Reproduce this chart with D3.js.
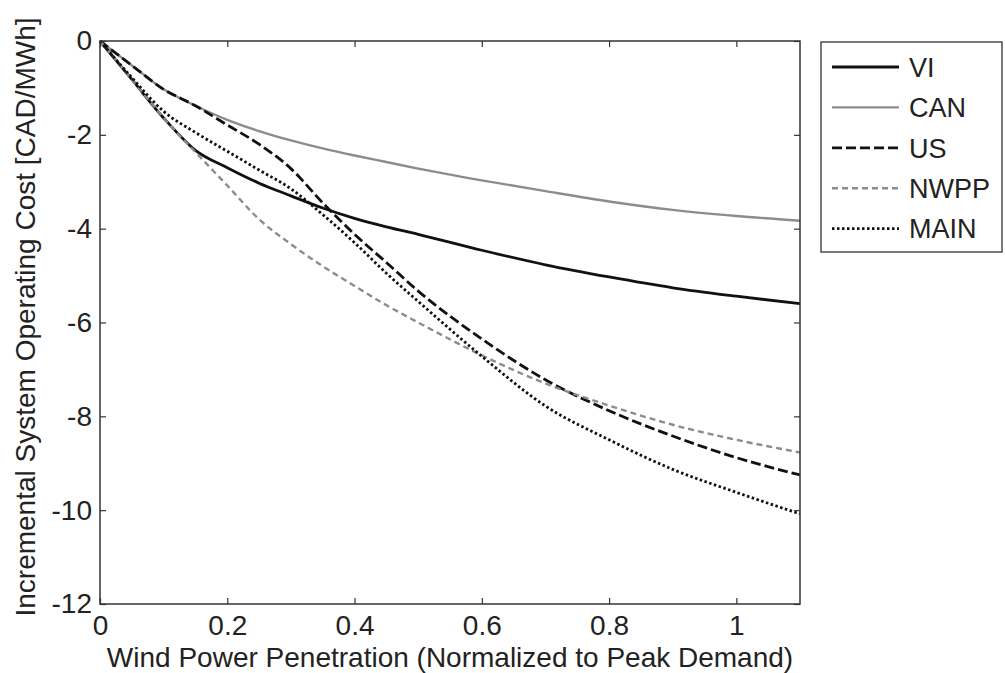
<!DOCTYPE html>
<html><head><meta charset="utf-8">
<script src="https://cdn.jsdelivr.net/npm/d3@7"></script>
<style>body{margin:0;background:#fff}svg{display:block}text{font-family:"Liberation Sans",Arial,sans-serif;fill:#222}</style>
</head><body><svg id="c" width="1005" height="673"></svg>
<script>
const xValues = [0,0.05,0.1,0.15,0.2,0.25,0.3,0.35,0.4,0.45,0.5,0.6,0.7,0.8,0.9,1.0,1.1];
const seriesNames = ["VI","CAN","US","NWPP","MAIN"];
const VI   = [0,-0.82,-1.64,-2.33,-2.7,-3.03,-3.3,-3.56,-3.78,-3.96,-4.12,-4.46,-4.77,-5.03,-5.26,-5.44,-5.6];
const CAN  = [0,-0.52,-1.03,-1.38,-1.68,-1.92,-2.12,-2.29,-2.44,-2.58,-2.72,-2.97,-3.2,-3.42,-3.6,-3.73,-3.83];
const US   = [0,-0.52,-1.03,-1.38,-1.79,-2.2,-2.72,-3.45,-4.12,-4.72,-5.33,-6.35,-7.22,-7.88,-8.42,-8.88,-9.25];
const NWPP = [0,-0.82,-1.64,-2.37,-3.08,-3.8,-4.33,-4.8,-5.22,-5.63,-6.0,-6.7,-7.3,-7.77,-8.18,-8.5,-8.77];
const MAIN = [0,-0.78,-1.5,-1.95,-2.35,-2.75,-3.15,-3.7,-4.3,-4.95,-5.55,-6.72,-7.78,-8.5,-9.13,-9.62,-10.08];
const xTicks = [0,0.2,0.4,0.6,0.8,1];
const yTicks = [0,-2,-4,-6,-8,-10,-12];
const xLabel = "Wind Power Penetration (Normalized to Peak Demand)";
const yLabel = "Incremental System Operating Cost [CAD/MWh]";

const styles = {
  VI:   {color:"#111", width:2.8, dash:null},
  CAN:  {color:"#8c8c8c", width:2.4, dash:null},
  US:   {color:"#111", width:2.8, dash:"10,4"},
  NWPP: {color:"#8c8c8c", width:2.4, dash:"6,4"},
  MAIN: {color:"#111", width:2.8, dash:"2.5,2.5"}
};
const data = {VI, CAN, US, NWPP, MAIN};

const svg = d3.select("#c");
const L=100, T=41, R=800, B=604;
const x = d3.scaleLinear().domain([0,1.1]).range([L,R]);
const y = d3.scaleLinear().domain([-12,0]).range([B,T]);
const FONT = "'Liberation Sans',Arial,sans-serif";
const axisColor="#333";

const line = d3.line().x(d=>x(d[0])).y(d=>y(d[1])).curve(d3.curveMonotoneX);
seriesNames.forEach(n=>{
  const s=styles[n];
  svg.append("path").datum(xValues.map((v,i)=>[v,data[n][i]]))
    .attr("d",line).attr("fill","none").attr("stroke",s.color)
    .attr("stroke-width",s.width).attr("stroke-dasharray",s.dash)
    .attr("stroke-linejoin","round");
});

const fmt = d => String(d);
const gx = svg.append("g").attr("transform",`translate(0,${B})`)
  .call(d3.axisBottom(x).tickValues(xTicks).tickSizeInner(-6).tickSizeOuter(0).tickPadding(11).tickFormat(fmt));
const gxt = svg.append("g").attr("transform",`translate(0,${T})`)
  .call(d3.axisTop(x).tickValues(xTicks).tickSizeInner(-6).tickSizeOuter(0).tickFormat(""));
const gy = svg.append("g").attr("transform",`translate(${L},0)`)
  .call(d3.axisLeft(y).tickValues(yTicks).tickSizeInner(-6).tickSizeOuter(0).tickPadding(8).tickFormat(fmt));
const gyr = svg.append("g").attr("transform",`translate(${R},0)`)
  .call(d3.axisRight(y).tickValues(yTicks).tickSizeInner(-6).tickSizeOuter(0).tickFormat(""));
[gx,gxt,gy,gyr].forEach(g=>{
  g.attr("font-size",null).attr("font-family",null);
  g.select(".domain").remove();
  g.selectAll("line").attr("stroke",axisColor).attr("stroke-width",1.2);
  g.selectAll("text").style("font-size","28px").attr("fill","#222").style("font-family",FONT);
});
gx.selectAll("text").attr("dy","0.71em");
svg.append("rect").attr("x",L).attr("y",T).attr("width",R-L).attr("height",B-T)
  .attr("fill","none").attr("stroke",axisColor).attr("stroke-width",1.5);

svg.append("text").attr("x",(L+R)/2).attr("y",667).attr("text-anchor","middle")
  .style("font-size","28px").text(xLabel);
svg.append("text").attr("transform",`translate(35,317) rotate(-90)`).attr("text-anchor","middle")
  .style("font-size","28px").text(yLabel);

const lg = svg.append("g");
lg.append("rect").attr("x",821).attr("y",42).attr("width",181).attr("height",210)
  .attr("fill","#fff").attr("stroke",axisColor).attr("stroke-width",1.3);
seriesNames.forEach((n,i)=>{
  const s=styles[n], yy=67+i*40.4;
  lg.append("line").attr("x1",832).attr("x2",899).attr("y1",yy).attr("y2",yy)
    .attr("stroke",s.color).attr("stroke-width",s.width).attr("stroke-dasharray",s.dash);
  lg.append("text").attr("x",909).attr("y",yy).attr("dy","0.36em").style("font-size","27px").text(n);
});
</script></body></html>
